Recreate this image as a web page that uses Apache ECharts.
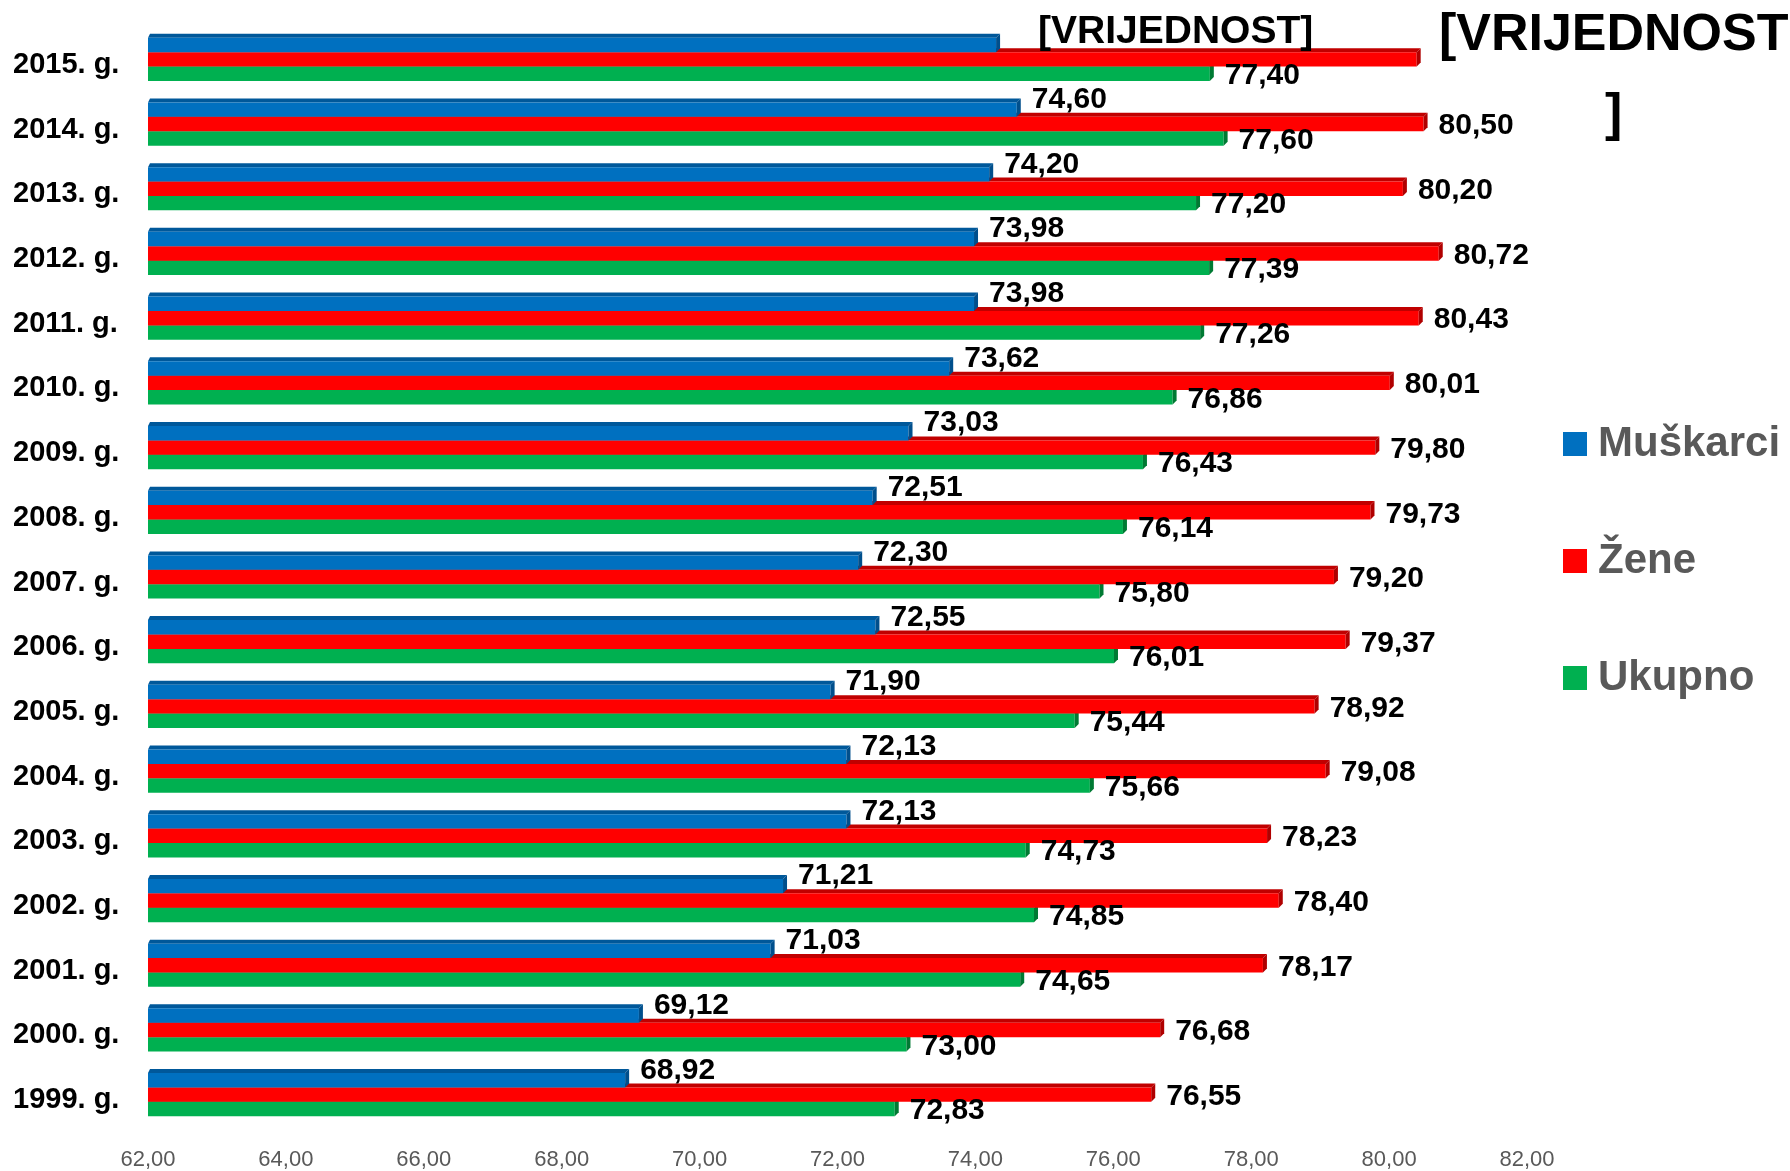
<!DOCTYPE html>
<html>
<head>
<meta charset="utf-8">
<script src="https://cdn.jsdelivr.net/npm/echarts@6/dist/echarts.min.js"></script>
<style>
  html, body { margin: 0; padding: 0; background: #ffffff; }
  #chart { width: 1790px; height: 1171px; }
</style>
</head>
<body>
<div id="chart"></div>
<script>
// Očekivano trajanje života pri rođenju, po godinama
const categories = ['2015. g.', '2014. g.', '2013. g.', '2012. g.', '2011. g.', '2010. g.', '2009. g.',
  '2008. g.', '2007. g.', '2006. g.', '2005. g.', '2004. g.', '2003. g.', '2002. g.', '2001. g.',
  '2000. g.', '1999. g.'];

const muskarci = [74.30, 74.60, 74.20, 73.98, 73.98, 73.62, 73.03, 72.51, 72.30, 72.55, 71.90,
  72.13, 72.13, 71.21, 71.03, 69.12, 68.92];
const zene = [80.40, 80.50, 80.20, 80.72, 80.43, 80.01, 79.80, 79.73, 79.20, 79.37, 78.92,
  79.08, 78.23, 78.40, 78.17, 76.68, 76.55];
const ukupno = [77.40, 77.60, 77.20, 77.39, 77.26, 76.86, 76.43, 76.14, 75.80, 76.01, 75.44,
  75.66, 74.73, 74.85, 74.65, 73.00, 72.83];

const seriesNames = ['Muškarci', 'Žene', 'Ukupno'];

// Oznake koje u 2015. nisu popunjene brojem
const placeholderLabels = {
  '2015. g.': { 0: '[VRIJEDNOST]', 1: '[VRIJEDNOST\n]' }
};

const xTicks = { min: 62, max: 82, step: 2 };

const FONT = "'Liberation Sans Narrow', 'Liberation Sans', Arial, sans-serif";
const BAR_H = 14.4;   // debljina jedne trake
const DEPTH = 4;      // dubina 3D ruba

const palette = [
  { front: '#0070C0', top: '#00589A', side: '#004F8C' },
  { front: '#FF0000', top: '#C00000', side: '#B00000' },
  { front: '#00B050', top: '#00883C', side: '#007A33' }
];

const fmt = v => v.toFixed(2).replace('.', ',');

function makeRender(sIdx) {
  const c = palette[sIdx];
  return function (params, api) {
    const v = api.value(0);
    const ci = api.value(1);
    const start = api.coord([xTicks.min, ci]);
    const end = api.coord([v, ci]);
    const yt = end[1] + 2 - 1.5 * BAR_H + sIdx * BAR_H;
    const yb = yt + BAR_H;
    const x0 = start[0], x1 = end[0];
    const z2 = 10 + (2 - sIdx) * 10;

    const children = [
      { type: 'polygon', z2: z2,
        shape: { points: [[x0, yt], [x0 + 2, yt - DEPTH], [x1 + DEPTH, yt - DEPTH], [x1, yt]] },
        style: { fill: c.top } },
      { type: 'rect', z2: z2 + 1,
        shape: { x: x0, y: yt, width: x1 - x0, height: BAR_H },
        style: { fill: c.front } },
      { type: 'polygon', z2: z2 + 1,
        shape: { points: [[x1, yt], [x1 + DEPTH, yt - DEPTH], [x1 + DEPTH, yb - DEPTH], [x1, yb]] },
        style: { fill: c.side } }
    ];

    const cat = categories[ci];
    const ph = placeholderLabels[cat] && placeholderLabels[cat][sIdx];
    const yc = (yt + yb) / 2;
    if (ph && sIdx === 0) {
      children.push({ type: 'text', z2: 200, x: x1 + 42, y: yc - 13,
        style: { text: ph, fill: '#000', fontFamily: FONT, fontWeight: 'bold', fontSize: 39,
          align: 'left', verticalAlign: 'middle' } });
    } else if (ph && sIdx === 1) {
      children.push({ type: 'text', z2: 200, x: x1 + 197, y: yc + 16,
        style: { text: ph, fill: '#000', fontFamily: FONT, fontWeight: 'bold', fontSize: 52,
          lineHeight: 80, align: 'center', verticalAlign: 'middle' } });
    } else {
      const dy = [-10, 2, 2][sIdx];
      children.push({ type: 'text', z2: 200, x: x1 + 15, y: yc + dy,
        style: { text: fmt(v), fill: '#000', fontFamily: FONT, fontWeight: 'bold', fontSize: 30,
          align: 'left', verticalAlign: 'middle' } });
    }
    return { type: 'group', children: children };
  };
}

const seriesData = [muskarci, zene, ukupno];

const chart = echarts.init(document.getElementById('chart'), null, { renderer: 'canvas' });
chart.setOption({
  backgroundColor: '#ffffff',
  animation: false,
  color: palette.map(p => p.front),
  grid: { left: 148, right: 263, top: 25, bottom: 46, containLabel: false },
  legend: {
    orient: 'vertical',
    left: 1563,
    top: 423,
    padding: 0,
    icon: 'rect',
    itemWidth: 24,
    itemHeight: 24,
    itemGap: 75,
    data: seriesNames,
    textStyle: { fontFamily: "'Liberation Sans', Arial, sans-serif", fontWeight: 'bold',
      fontSize: 42, color: '#595959', lineHeight: 40, padding: [0, 0, 0, 6] }
  },
  xAxis: {
    type: 'value',
    min: xTicks.min,
    max: xTicks.max,
    interval: xTicks.step,
    axisLine: { show: false },
    axisTick: { show: false },
    splitLine: { show: false },
    axisLabel: { formatter: fmt, color: '#595959', fontFamily: FONT, fontSize: 22, margin: 24 }
  },
  yAxis: {
    type: 'category',
    data: categories,
    inverse: true,
    axisLine: { show: false },
    axisTick: { show: false },
    splitLine: { show: false },
    axisLabel: { color: '#000', fontFamily: FONT, fontWeight: 'bold', fontSize: 29,
      align: 'left', verticalAlign: 'top', lineHeight: 15, margin: 135 }
  },
  series: seriesData.map((arr, s) => ({
    type: 'custom',
    name: seriesNames[s],
    renderItem: makeRender(s),
    encode: { x: 0, y: 1 },
    itemStyle: { color: palette[s].front },
    data: arr.map((v, i) => [v, i])
  }))
});
</script>
</body>
</html>
